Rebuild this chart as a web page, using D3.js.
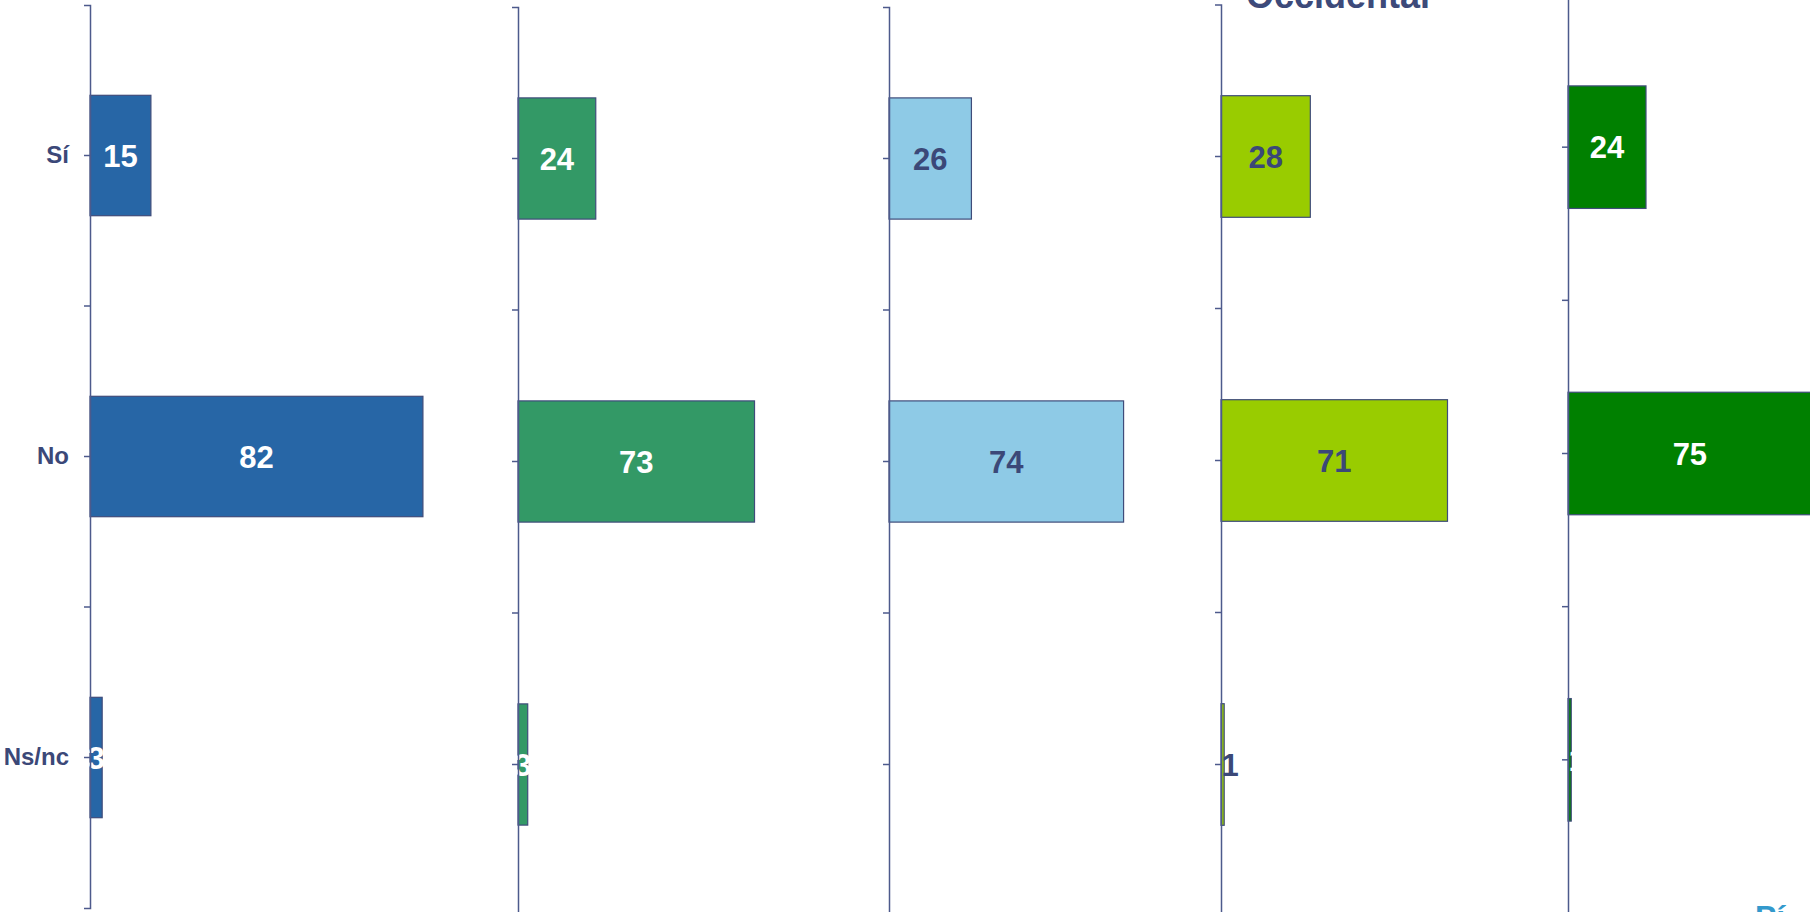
<!DOCTYPE html>
<html>
<head>
<meta charset="utf-8">
<script src="https://cdn.jsdelivr.net/npm/d3@7"></script>
<style>
  html, body { margin: 0; padding: 0; background: #fff; overflow: hidden; }
</style>
</head>
<body>
<script>
var categories = ["Sí", "No", "Ns/nc"];
var values1 = [15, 82, 3];
var values2 = [24, 73, 3];
var values3 = [26, 74, null];
var values4 = [28, 71, 1];
var values5 = [24, 75, 1];
var titleText = "Occidental";
var footerText = "Pí";

var width = 1810;
var height = 912;
var axisColor = "#4d5a8c";
var textColor = "#3b4878";

// each panel was a separate chart, so each gets its own position and scale
var panels = [
  { values: values1, x0: 90,   top: 5,   bottom: 908, span: 406, fill: "#2766a6", label: "#ffffff", showCats: true },
  { values: values2, x0: 518,  top: 7,   bottom: 916, span: 324, fill: "#339966", label: "#ffffff" },
  { values: values3, x0: 889,  top: 7,   bottom: 916, span: 317, fill: "#8ecae6", label: textColor },
  { values: values4, x0: 1221, top: 4.5, bottom: 916.5, span: 319, fill: "#99cc00", label: textColor },
  { values: values5, x0: 1568, top: -6,  bottom: 913, span: 325, fill: "#008000", label: "#ffffff" }
];

var svg = d3.select("body")
  .append("svg")
  .attr("width", width)
  .attr("height", height);

svg.append("rect")
  .attr("width", width)
  .attr("height", height)
  .attr("fill", "#ffffff");

panels.forEach(function(p) {
  var y = d3.scaleBand()
    .domain(categories)
    .range([p.top, p.bottom])
    .paddingInner(0.6)
    .paddingOuter(0.3);

  var x = d3.scaleLinear()
    .domain([0, 100])
    .range([0, p.span]);

  var g = svg.append("g")
    .attr("transform", "translate(" + p.x0 + ",0)");

  var rows = categories.map(function(c, i) { return { cat: c, v: p.values[i] }; })
    .filter(function(d) { return d.v != null; });

  g.selectAll("rect.bar")
    .data(rows)
    .enter()
    .append("rect")
    .attr("class", "bar")
    .attr("x", 0)
    .attr("y", function(d) { return y(d.cat); })
    .attr("width", function(d) { return x(d.v); })
    .attr("height", y.bandwidth())
    .attr("fill", p.fill)
    .attr("stroke", "#3f4c7a")
    .attr("stroke-width", 1.2);

  // labels of the very thin bars sit a little to the right
  g.selectAll("text.val")
    .data(rows)
    .enter()
    .append("text")
    .attr("class", "val")
    .attr("x", function(d) { return d.v < 2 ? 9 : x(d.v) / 2; })
    .attr("y", function(d) { return y(d.cat) + y.bandwidth() / 2; })
    .attr("dy", "0.36em")
    .attr("text-anchor", "middle")
    .attr("fill", p.label)
    .style("font", "bold 31px 'Liberation Sans', Arial, sans-serif")
    .text(function(d) { return d.v; });

  // axis: ticks at category centres, plus end ticks from the domain path
  var axis = d3.axisLeft(y)
    .tickSize(6)
    .tickSizeOuter(6)
    .tickPadding(15)
    .tickFormat(p.showCats ? null : "");

  var ag = g.append("g").call(axis);
  ag.select(".domain").attr("stroke", axisColor).attr("stroke-width", 1.5);
  ag.selectAll(".tick line").attr("stroke", axisColor).attr("stroke-width", 1.5);
  ag.selectAll(".tick text")
    .attr("fill", textColor)
    .style("font", "bold 24px 'Liberation Sans', Arial, sans-serif");

  // tick marks between categories
  var step = y.step();
  var bounds = categories.slice(1).map(function(c) { return y(c) - step * y.paddingInner() / 2; });
  g.selectAll("line.sep")
    .data(bounds)
    .enter()
    .append("line")
    .attr("class", "sep")
    .attr("x1", -6)
    .attr("x2", 0)
    .attr("y1", function(d) { return d; })
    .attr("y2", function(d) { return d; })
    .attr("stroke", axisColor)
    .attr("stroke-width", 1.5);
});

// slide texts that the crop cuts off
svg.append("text")
  .attr("x", 1338)
  .attr("y", 8)
  .attr("text-anchor", "middle")
  .attr("fill", "#3d4a7a")
  .style("font", "bold 36px 'Liberation Sans', Arial, sans-serif")
  .text(titleText);

svg.append("text")
  .attr("x", 1755)
  .attr("y", 928)
  .attr("fill", "#3399cc")
  .style("font", "bold 32px 'Liberation Sans', Arial, sans-serif")
  .text(footerText);
</script>
</body>
</html>
